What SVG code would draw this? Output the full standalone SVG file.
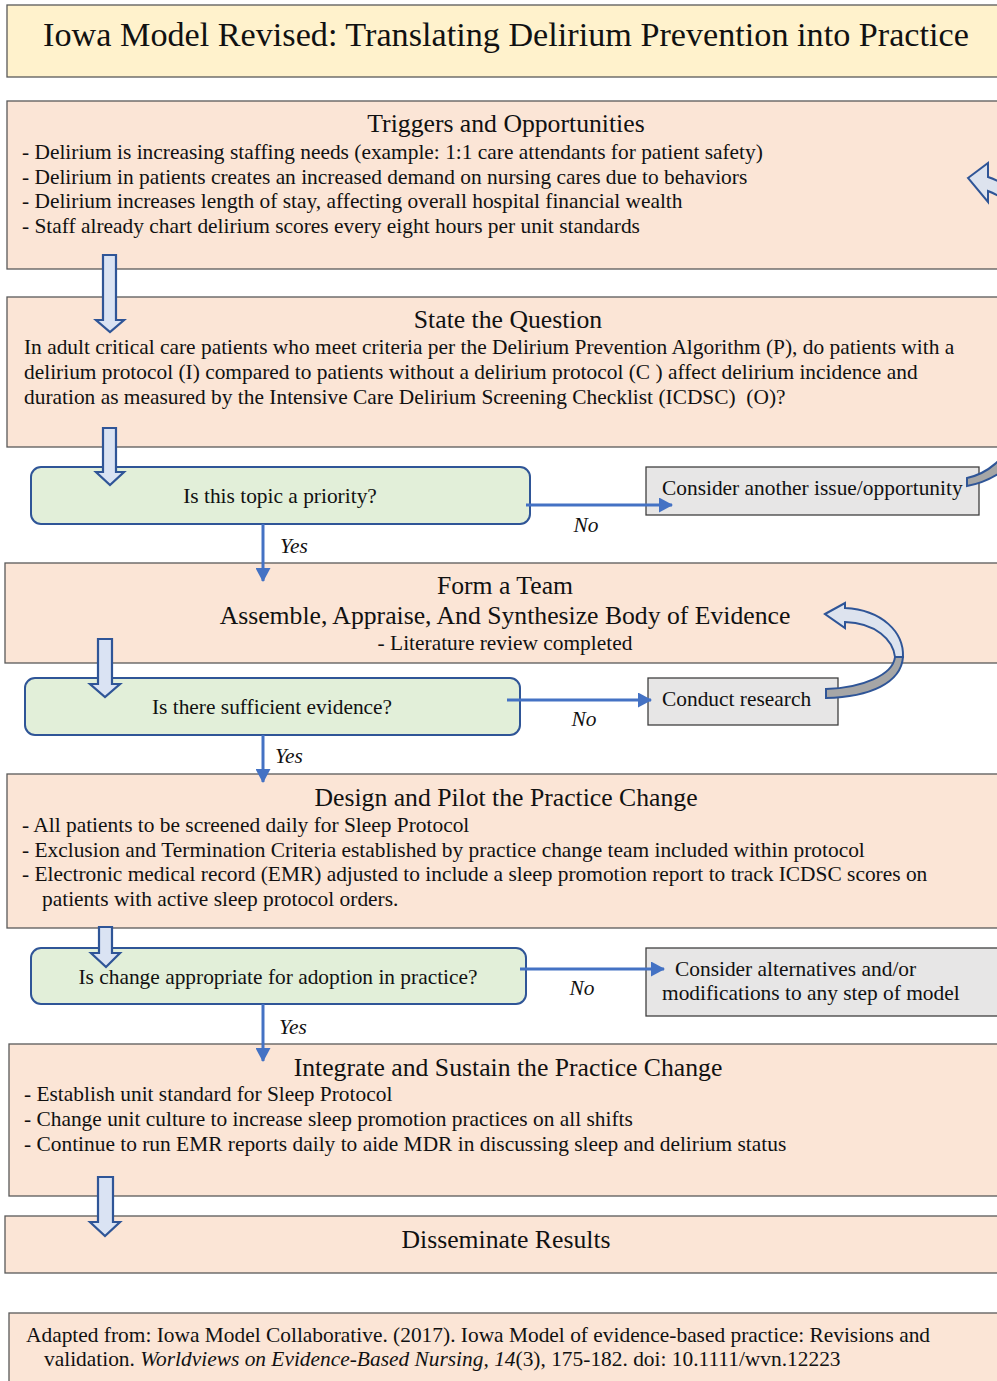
<svg xmlns="http://www.w3.org/2000/svg" width="997" height="1381" viewBox="0 0 997 1381">
<defs>
<marker id="ah" markerUnits="userSpaceOnUse" markerWidth="14" markerHeight="15" viewBox="0 0 14 15" refX="13" refY="7.5" orient="auto">
<path d="M0,0 L14,7.5 L0,15 z" fill="#4472c4"/>
</marker>
<style>
text{font-family:"Liberation Serif","Times New Roman",serif;fill:#111;}
.main{fill:#fbe5d6;stroke:#595959;stroke-width:1.3;}
.title{fill:#fff2cc;stroke:#595959;stroke-width:1.3;}
.dec{fill:#e2efd9;stroke:#2f5597;stroke-width:2;}
.alt{fill:#e7e6e6;stroke:#404040;stroke-width:1.3;}
.h{font-size:25.7px;}
.b{font-size:21.4px;}
.i{font-size:21.4px;font-style:italic;}
.ln{stroke:#4472c4;stroke-width:3;fill:none;marker-end:url(#ah);}
.blk{fill:#dae3f3;stroke:#2f5597;stroke-width:2.2;stroke-linejoin:miter;}
.crv{fill:#dde3ee;stroke:#2f5597;stroke-width:2;stroke-linejoin:miter;}
.crvg{fill:#a6a6a6;stroke:#2f5597;stroke-width:2;}
</style>
</defs>

<g id="title">
<rect class="title" x="7" y="5" width="1000" height="72"/>
<text x="506" y="46" text-anchor="middle" font-size="34.2">Iowa Model Revised: Translating Delirium Prevention into Practice</text>
</g>

<g id="triggers">
<rect class="main" x="7" y="101" width="1000" height="168"/>
<text class="h" x="506" y="132" text-anchor="middle">Triggers and Opportunities</text>
<text class="b" x="22" y="159">- Delirium is increasing staffing needs (example: 1:1 care attendants for patient safety)</text>
<text class="b" x="22" y="184">- Delirium in patients creates an increased demand on nursing cares due to behaviors</text>
<text class="b" x="22" y="208">- Delirium increases length of stay, affecting overall hospital financial wealth</text>
<text class="b" x="22" y="233">- Staff already chart delirium scores every eight hours per unit standards</text>
</g>

<g id="question">
<rect class="main" x="7" y="297" width="1000" height="150"/>
<text class="h" x="508" y="328" text-anchor="middle">State the Question</text>
<text class="b" x="24" y="354">In adult critical care patients who meet criteria per the Delirium Prevention Algorithm (P), do patients with a</text>
<text class="b" x="24" y="379">delirium protocol (I) compared to patients without a delirium protocol (C ) affect delirium incidence and</text>
<text class="b" x="24" y="404">duration as measured by the Intensive Care Delirium Screening Checklist (ICDSC)&#160; (O)?</text>
</g>

<g id="priority">
<rect class="dec" x="31" y="467" width="499" height="57" rx="10"/>
<text class="b" x="280" y="503" text-anchor="middle">Is this topic a priority?</text>
</g>

<g id="another">
<rect class="alt" x="646" y="467" width="333" height="48"/>
<text class="b" x="662" y="495">Consider another issue/opportunity</text>
</g>

<g id="team">
<rect class="main" x="5" y="563" width="1002" height="100"/>
<text class="h" x="505" y="594" text-anchor="middle">Form a Team</text>
<text class="h" x="505" y="624" text-anchor="middle">Assemble, Appraise, And Synthesize Body of Evidence</text>
<text class="b" x="505" y="650" text-anchor="middle">- Literature review completed</text>
</g>

<g id="evidence">
<rect class="dec" x="25" y="678" width="495" height="57" rx="10"/>
<text class="b" x="272" y="714" text-anchor="middle">Is there sufficient evidence?</text>
</g>

<g id="research">
<rect class="alt" x="648" y="678" width="190" height="47"/>
<text class="b" x="662" y="706">Conduct research</text>
</g>

<g id="design">
<rect class="main" x="7" y="774" width="1000" height="154"/>
<text class="h" x="506" y="806" text-anchor="middle">Design and Pilot the Practice Change</text>
<text class="b" x="22" y="832">- All patients to be screened daily for Sleep Protocol</text>
<text class="b" x="22" y="857">- Exclusion and Termination Criteria established by practice change team included within protocol</text>
<text class="b" x="22" y="881">- Electronic medical record (EMR) adjusted to include a sleep promotion report to track ICDSC scores on</text>
<text class="b" x="42" y="906">patients with active sleep protocol orders.</text>
</g>

<g id="adopt">
<rect class="dec" x="31" y="948" width="495" height="56" rx="10"/>
<text class="b" x="278" y="984" text-anchor="middle">Is change appropriate for adoption in practice?</text>
</g>

<g id="alternatives">
<rect class="alt" x="646" y="948" width="361" height="68"/>
<text class="b" x="675" y="976">Consider alternatives and/or</text>
<text class="b" x="662" y="1000">modifications to any step of model</text>
</g>

<g id="integrate">
<rect class="main" x="9" y="1044" width="998" height="152"/>
<text class="h" x="508" y="1076" text-anchor="middle">Integrate and Sustain the Practice Change</text>
<text class="b" x="24" y="1101">- Establish unit standard for Sleep Protocol</text>
<text class="b" x="24" y="1126">- Change unit culture to increase sleep promotion practices on all shifts</text>
<text class="b" x="24" y="1151">- Continue to run EMR reports daily to aide MDR in discussing sleep and delirium status</text>
</g>

<g id="disseminate">
<rect class="main" x="5" y="1216" width="1002" height="57"/>
<text class="h" x="506" y="1248" text-anchor="middle">Disseminate Results</text>
</g>

<g id="footer">
<rect class="main" x="9" y="1313" width="998" height="80"/>
<text class="b" x="26" y="1342">Adapted from: Iowa Model Collaborative. (2017). Iowa Model of evidence-based practice: Revisions and</text>
<text class="b" x="44" y="1366">validation. <tspan font-style="italic">Worldviews on Evidence-Based Nursing, 14</tspan>(3), 175-182. doi: 10.1111/wvn.12223</text>
</g>

<g id="connectors">
<path class="blk" d="M103,255 H116 V320 H124 L110,332 L96,320 H103 Z"/>
<path class="blk" d="M103,428 H116 V472 H124 L110,485 L96,472 H103 Z"/>
<path class="blk" d="M98,639 H112 V684 H120 L105,697 L90,684 H98 Z"/>
<path class="blk" d="M99,927 H112 V953 H120 L106,967 L91,953 H99 Z"/>
<path class="blk" d="M98,1177 H113 V1222 H120 L105,1236 L90,1222 H98 Z"/>

<path class="ln" d="M526,505 H672"/>
<text class="i" x="586" y="532" text-anchor="middle">No</text>
<path class="ln" d="M263,524 V581"/>
<text class="i" x="294" y="553" text-anchor="middle">Yes</text>

<path class="ln" d="M507,700 H651"/>
<text class="i" x="584" y="726" text-anchor="middle">No</text>
<path class="ln" d="M263,735 V782"/>
<text class="i" x="289" y="763" text-anchor="middle">Yes</text>

<path class="ln" d="M520,969 H664"/>
<text class="i" x="582" y="995" text-anchor="middle">No</text>
<path class="ln" d="M263,1004 V1061"/>
<text class="i" x="293" y="1034" text-anchor="middle">Yes</text>

<path class="crvg" d="M903,657 C901,683 870,697 826,698 L826,689 C862,688 893,675 895,657 Z"/>
<path class="crv" d="M825,614 L845,603 L845,608 C882,610 904,632 903,657 L895,657 C893,640 876,623 845,622 L845,628 Z"/>

<path class="crvg" d="M967,478 C990,473 1003,458 1015,440 C1050,390 1070,350 1068,320 L1080,320 C1082,360 1060,410 1025,450 C1010,468 990,482 967,486 Z"/>
<path class="crv" d="M968,178 L988,163 L988,177 C1040,195 1080,255 1080,320 L1068,320 C1066,262 1035,210 988,191 L988,202 Z"/>
</g>
</svg>
